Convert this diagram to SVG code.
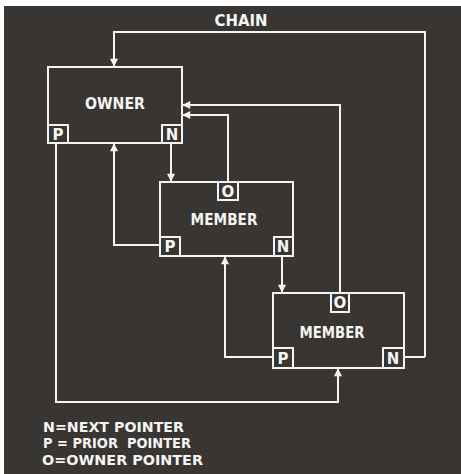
<svg xmlns="http://www.w3.org/2000/svg" width="461" height="474" viewBox="0 0 461 474">
<defs>
<marker id="ah" viewBox="0 0 10 10" refX="9" refY="5" markerWidth="4.5" markerHeight="4" orient="auto" markerUnits="strokeWidth">
<path d="M0,0 L10,5 L0,10 Z" fill="#f4f4f2"/>
</marker>
</defs>
<style>
.bx{fill:none;stroke:#f4f4f2;stroke-width:2}
.ln{fill:none;stroke:#f4f4f2;stroke-width:2}
.ar{marker-end:url(#ah)}
.t{fill:#f4f4f2;font-family:"DejaVu Sans","Liberation Sans",sans-serif;font-weight:bold}
.big{font-size:15px}
.sm{font-size:15px}
.lg{font-size:14.5px}
</style>
<rect x="0" y="0" width="461" height="474" fill="#ffffff"/>
<rect x="4" y="6" width="457" height="468" fill="#383533"/>
<text class="t big" x="241" y="26" text-anchor="middle" textLength="53" lengthAdjust="spacingAndGlyphs">CHAIN</text>
<g id="connectors">
<path class="ln ar" d="M425,357 V32 H114 V66"/>
<path class="ln ar" d="M340,293 V105 H183"/>
<path class="ln ar" d="M228,182 V115 H183"/>
<path class="ln ar" d="M160,245 H114 V144"/>
<path class="ln ar" d="M171,143 V181"/>
<path class="ln ar" d="M56,143 V402 H338 V369"/>
<path class="ln ar" d="M282,256 V292"/>
<path class="ln ar" d="M273,357 H225 V257"/>
<path class="ln" d="M404,357 H425"/>
</g>
<g id="owner">
<rect class="bx" x="48" y="67" width="134" height="76"/>
<rect class="bx" x="48" y="125" width="20" height="18"/>
<rect class="bx" x="162" y="125" width="20" height="18"/>
<text class="t big" x="115" y="109" text-anchor="middle" textLength="60" lengthAdjust="spacingAndGlyphs">OWNER</text>
<text class="t sm" x="58" y="140" text-anchor="middle">P</text>
<text class="t sm" x="172" y="140" text-anchor="middle">N</text>
</g>
<g id="member1">
<rect class="bx" x="160" y="182" width="133" height="74"/>
<rect class="bx" x="218" y="182" width="20" height="18"/>
<rect class="bx" x="160" y="237" width="20" height="19"/>
<rect class="bx" x="274" y="237" width="19" height="19"/>
<text class="t big" x="224" y="225" text-anchor="middle" textLength="67" lengthAdjust="spacingAndGlyphs">MEMBER</text>
<text class="t sm" x="228" y="197" text-anchor="middle">O</text>
<text class="t sm" x="170" y="252" text-anchor="middle">P</text>
<text class="t sm" x="283" y="252" text-anchor="middle">N</text>
</g>
<g id="member2">
<rect class="bx" x="273" y="293" width="131" height="75"/>
<rect class="bx" x="331" y="293" width="18" height="19"/>
<rect class="bx" x="273" y="348" width="20" height="20"/>
<rect class="bx" x="383" y="348" width="21" height="20"/>
<text class="t big" x="332" y="338" text-anchor="middle" textLength="65" lengthAdjust="spacingAndGlyphs">MEMBER</text>
<text class="t sm" x="340" y="308" text-anchor="middle">O</text>
<text class="t sm" x="283" y="364" text-anchor="middle">P</text>
<text class="t sm" x="393" y="364" text-anchor="middle">N</text>
</g>
<g id="legend">
<text class="t lg" x="43" y="432" textLength="141" lengthAdjust="spacingAndGlyphs">N=NEXT POINTER</text>
<text class="t lg" x="43" y="448" textLength="148" lengthAdjust="spacingAndGlyphs" xml:space="preserve">P = PRIOR  POINTER</text>
<text class="t lg" x="42" y="465" textLength="161" lengthAdjust="spacingAndGlyphs">O=OWNER POINTER</text>
</g>
</svg>
